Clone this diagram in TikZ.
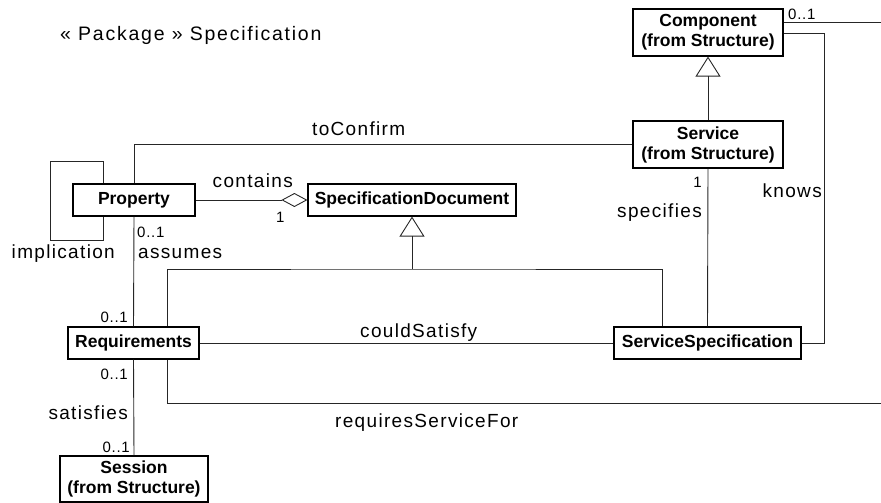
\documentclass[tikz,border=0pt]{standalone}
\usepackage{fontspec}
\setmainfont{Liberation Sans}
\newfontfamily\labfont[LetterSpace=7]{Liberation Sans}
\newfontfamily\titlefont[LetterSpace=9]{Liberation Sans}
\newfontfamily\multfont[LetterSpace=5]{Liberation Sans}
\usetikzlibrary{arrows.meta}
\begin{document}
\begin{tikzpicture}[x=1pt,y=-1pt,
  cls/.style={draw=black,line width=1.2pt,fill=white,inner sep=0pt,align=center,
    font=\fontsize{17.5}{20}\selectfont\bfseries},
  conn/.style={draw=black!85,line width=0.9pt},
  lab/.style={inner sep=0pt,font=\labfont\fontsize{19}{21}\selectfont},
  mult/.style={inner sep=0pt,font=\multfont\fontsize{15}{17}\selectfont},
  inh/.style={conn,-{Triangle[open,length=20pt,width=25pt,line width=0.9pt]}},
  agg/.style={conn,{Diamond[open,length=26pt,width=14pt,line width=0.9pt]}-}]
\useasboundingbox (0,0) rectangle (881,503);
% classes
\node[cls,minimum width=150pt,minimum height=47pt] (comp) at (708,32.5) {Component\\(from Structure)};
\node[cls,minimum width=150pt,minimum height=47pt] (serv) at (708,144.5) {Service\\(from Structure)};
\node[cls,minimum width=122pt,minimum height=32pt] (prop) at (134,200) {Property};
\node[cls,minimum width=208pt,minimum height=32pt] (sdoc) at (412,200) {SpecificationDocument};
\node[cls,minimum width=131pt,minimum height=32pt] (req) at (133.5,343) {Requirements};
\node[cls,minimum width=187pt,minimum height=32pt] (ss) at (707.5,343) {ServiceSpecification};
\node[cls,minimum width=148pt,minimum height=46pt] (sess) at (134,479) {Session\\(from Structure)};
\coordinate (e1) at (881,22);
\coordinate (e2) at (881,403);
\coordinate (j) at (sdoc.south |- 0,269);
% connectors
\draw[conn] (comp.east |- e1) -- (e1);
\draw[conn] (comp.east |- 0,33) -- (824,33) |- (ss.east);
\draw[inh] (serv.north) -- (comp.south);
\draw[conn] (serv.west) -| (prop.north);
\draw[conn] (prop.south) -- (req.north);
\draw[conn] (prop.north -| 103,0) -- (103,161) -- (50,161) -- (50,240) -- (103,240) -- (prop.south -| 103,0);
\draw[agg] (sdoc.west) -- (prop.east);
\draw[inh] (j) -- (sdoc.south);
\draw[conn] (req.north -| 167,0) |- (j) -| (ss.north -| 662,0);
\draw[conn] (serv.south) -- (ss.north);
\draw[conn] (req.east) -- (ss.west);
\draw[conn] (req.south -| 167,0) |- (e2);
\draw[conn] (req.south) -- (sess.north);
% labels
\node[inner sep=0pt,font=\titlefont\fontsize{19.5}{21}\selectfont,anchor=base west] (title) at (60,41) {« Package » Specification};
\node[mult,anchor=base west] (m1) at (788,20) {0..1};
\node[lab,anchor=base east] (lknows) at (822,197) {knows};
\node[mult,anchor=base east] (m2) at (702,187) {1};
\node[lab,anchor=base east] (lspec) at (702,217) {specifies};
\node[lab,anchor=base west] (lconf) at (312,135) {toConfirm};
\node[lab,anchor=base east] (lcont) at (293,187) {contains};
\node[mult,anchor=base west] (m3) at (276,222) {1};
\node[mult,anchor=base west] (m4) at (137,237) {0..1};
\node[lab,anchor=base west] (lass) at (138,258) {assumes};
\node[lab,anchor=base east] (limp) at (115,258) {implication};
\node[mult,anchor=base east] (m5) at (128,322) {0..1};
\node[mult,anchor=base east] (m6) at (128,379) {0..1};
\node[lab,anchor=base east] (lsat) at (128,419) {satisfies};
\node[mult,anchor=base east] (m7) at (130,452) {0..1};
\node[lab,anchor=base west] (lcould) at (360,337) {couldSatisfy};
\node[lab,anchor=base west] (lreq) at (335,427) {requiresServiceFor};
\end{tikzpicture}
\end{document}
